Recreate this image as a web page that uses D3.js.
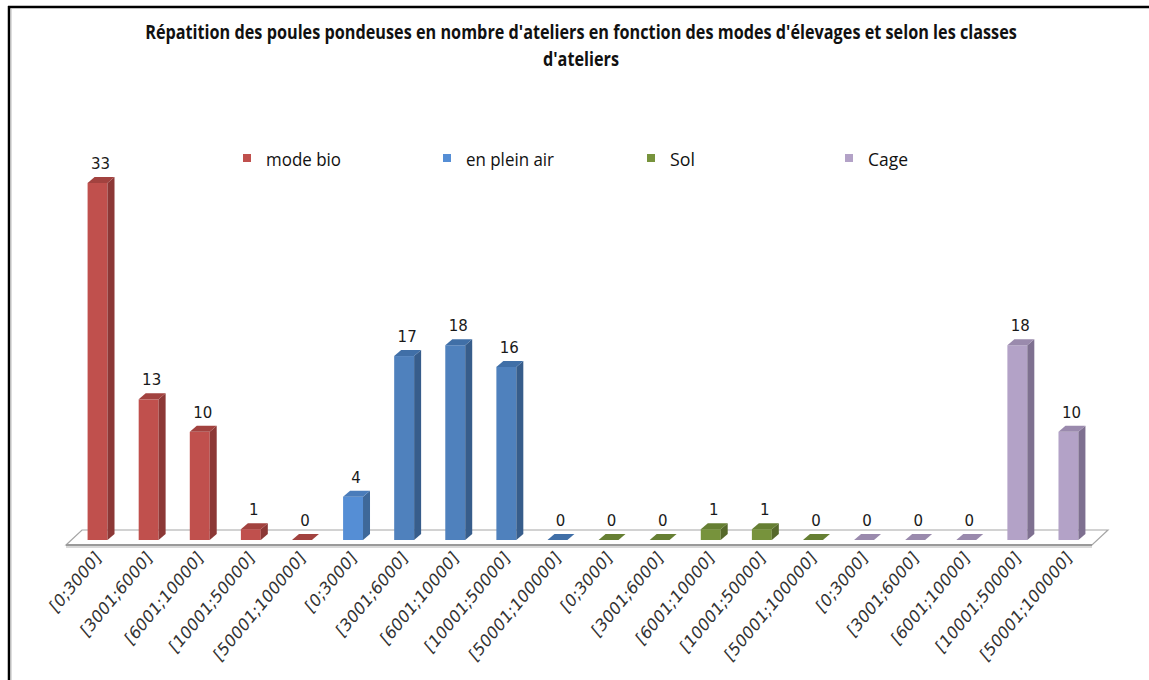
<!DOCTYPE html>
<html>
<head>
<meta charset="utf-8">
<script src="https://cdn.jsdelivr.net/npm/d3@7"></script>
<style>
  html, body { margin: 0; padding: 0; background: #fff; }
  svg { display: block; }
</style>
</head>
<body>
<svg id="chart" width="1149" height="680"></svg>
<script>
// Laying-hen workshops per farming mode and workshop size class
const classes = ["[0;3000]", "[3001;6000]", "[6001;10000]", "[10001;50000]", "[50001;100000]"];
const seriesNames = ["mode bio", "en plein air", "Sol", "Cage"];
const modeBio = [33, 13, 10, 1, 0];
const pleinAir = [4, 17, 18, 16, 0];
const sol = [0, 0, 1, 1, 0];
const cage = [0, 0, 0, 18, 10];
const titleLines = [
  "Répatition des poules pondeuses en nombre d'ateliers en fonction des modes d'élevages et selon les classes",
  "d'ateliers"
];

// Face colours per series: front, side, top
const palette = [
  { front: "#C0504D", side: "#8C3836", top: "#A2423F", legend: "#C0504D" },
  { front: "#4F81BD", side: "#375D8B", top: "#406FA7", legend: "#558ED5" },
  { front: "#77933C", side: "#56692B", top: "#667F33", legend: "#77933C" },
  { front: "#B3A2C7", side: "#7E7090", top: "#9A8AAD", legend: "#B3A2C7" }
];
// the first "en plein air" column is drawn in the brighter legend blue
const pointOverride = { "1-0": { front: "#558ED5", side: "#3E6899", top: "#4A7CBA" } };

const allSeries = [modeBio, pleinAir, sol, cage];
const bars = [];
allSeries.forEach((vals, s) => vals.forEach((v, c) => {
  const key = s + "-" + c;
  bars.push({ idx: s * classes.length + c, series: s, label: classes[c], value: v,
              col: Object.assign({}, palette[s], pointOverride[key] || {}) });
}));

const svg = d3.select("#chart");

// outer frame (left + top edges)
svg.append("line").attr("x1", 8).attr("y1", 7).attr("x2", 1149).attr("y2", 7)
  .attr("stroke", "#000").attr("stroke-width", 2.5);
svg.append("line").attr("x1", 9).attr("y1", 6).attr("x2", 9).attr("y2", 680)
  .attr("stroke", "#000").attr("stroke-width", 2.5);
svg.append("line").attr("x1", 11).attr("y1", 9).attr("x2", 11).attr("y2", 680)
  .attr("stroke", "#bbb").attr("stroke-width", 1);

// title: sized so the first line spans the chart width, then stretched vertically
const titleFont = "'Open Sans', 'Liberation Sans', sans-serif";
const titleWidth = 872;
const probe = svg.append("text").attr("font-family", titleFont).attr("font-weight", "bold")
  .attr("font-size", 20).text(titleLines[0]);
const titleSize = 20 * titleWidth / probe.node().getComputedTextLength();
probe.remove();
const titleStretch = 1.22;
[[39, titleLines[0]], [66, titleLines[1]]].forEach(([ty, txt]) => {
  svg.append("text").attr("transform", `translate(581,${ty}) scale(1,${titleStretch})`)
    .attr("text-anchor", "middle").attr("font-family", titleFont).attr("font-weight", "bold")
    .attr("font-size", titleSize).attr("fill", "#111").text(txt);
});

// scales
const x = d3.scaleBand().domain(d3.range(bars.length)).range([72, 1094])
  .paddingInner(0.61).paddingOuter(0.305);
const baseY = 540;
const y = d3.scaleLinear().domain([0, 35]).range([baseY, baseY - 35 * 10.82]);
const dx = 7, dy = -6;

// floor
const floor = { fl: 66, fr: 1092, fy: 545, shiftX: 16, shiftY: -15 };
svg.append("polygon")
  .attr("points", [[floor.fl, floor.fy], [floor.fr, floor.fy],
                   [floor.fr + floor.shiftX, floor.fy + floor.shiftY],
                   [floor.fl + floor.shiftX, floor.fy + floor.shiftY]].map(p => p.join(",")).join(" "))
  .attr("fill", "#fff").attr("stroke", "#a6a6a6").attr("stroke-width", 1.2);
svg.append("line").attr("x1", floor.fl).attr("x2", floor.fr).attr("y1", floor.fy + 2).attr("y2", floor.fy + 2)
  .attr("stroke", "#d9d9d9").attr("stroke-width", 2);
svg.append("line").attr("x1", floor.fl).attr("x2", floor.fr).attr("y1", floor.fy).attr("y2", floor.fy)
  .attr("stroke", "#9a9a9a").attr("stroke-width", 1.8);

// bars
const bw = x.bandwidth();
const g = svg.append("g");
bars.forEach(d => {
  const x0 = x(d.idx), yt = y(d.value);
  const bar = g.append("g");
  if (d.value > 0) {
    bar.append("rect").attr("x", x0).attr("y", yt).attr("width", bw).attr("height", baseY - yt)
      .attr("fill", d.col.front);
    bar.append("polygon")
      .attr("points", [[x0 + bw, yt], [x0 + bw + dx, yt + dy], [x0 + bw + dx, baseY + dy], [x0 + bw, baseY]]
        .map(p => p.join(",")).join(" "))
      .attr("fill", d.col.side);
  }
  bar.append("polygon")
    .attr("points", [[x0, yt], [x0 + dx, yt + dy], [x0 + bw + dx, yt + dy], [x0 + bw, yt]]
      .map(p => p.join(",")).join(" "))
    .attr("fill", d.col.top);

  // value label
  svg.append("text").attr("x", x0 + bw / 2 + 3).attr("y", yt - 14)
    .attr("text-anchor", "middle").attr("font-family", "'DejaVu Sans', sans-serif")
    .attr("font-size", 15).attr("fill", "#1a1a1a").text(d.value);

  // category label
  const lx = x0 + bw / 2 + 4, ly = 559;
  svg.append("text").attr("transform", `translate(${lx},${ly}) scale(1,1.2) rotate(-45)`)
    .attr("text-anchor", "end").attr("font-family", "'DejaVu Sans', sans-serif")
    .attr("font-size", 15).attr("fill", "#333").text(d.label);
});

// legend
const legendFont = "'Open Sans', 'Liberation Sans', sans-serif";
const legendPos = [243, 443, 647, 845];
const legendLen = [75, 88, 25, 40];
seriesNames.forEach((name, i) => {
  svg.append("rect").attr("x", legendPos[i]).attr("y", 154).attr("width", 8).attr("height", 8)
    .attr("fill", palette[i].legend);
  svg.append("text").attr("x", legendPos[i] + 23).attr("y", 166)
    .attr("font-family", legendFont).attr("font-size", 18).attr("fill", "#111")
    .attr("textLength", legendLen[i]).attr("lengthAdjust", "spacingAndGlyphs")
    .text(name);
});
</script>
</body>
</html>
